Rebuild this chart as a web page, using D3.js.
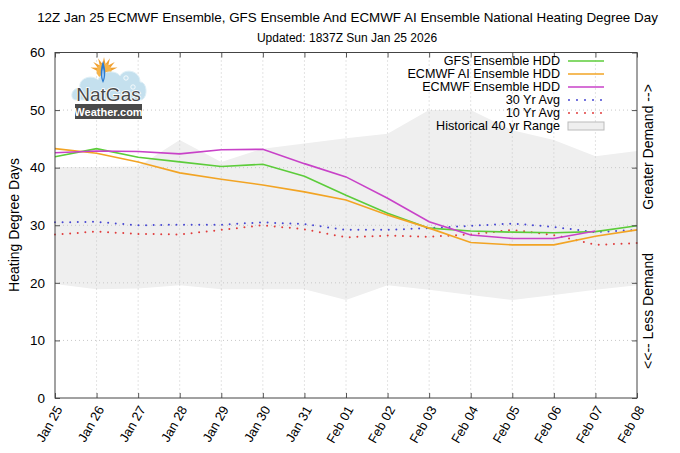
<!DOCTYPE html>
<html>
<head>
<meta charset="utf-8">
<script src="https://cdn.jsdelivr.net/npm/d3@7"></script>
<style>
    body { margin: 0; background: #fff; }
    svg { font-family: "Liberation Sans", Arial, sans-serif; }
    .grid line { stroke: #c8c8c8; stroke-dasharray: 1,3; }
</style>
</head>
<body>
<div id="wrapper"></div>
<script>
// values
const dayLabels = ["Jan 25", "Jan 26", "Jan 27", "Jan 28", "Jan 29", "Jan 30", "Jan 31",
    "Feb 01", "Feb 02", "Feb 03", "Feb 04", "Feb 05", "Feb 06", "Feb 07", "Feb 08"];
const yTicks = [0, 10, 20, 30, 40, 50, 60];

const gfs = [41.9, 43.3, 41.8, 41.0, 40.2, 40.6, 38.5, 35.2, 32.1, 29.5, 29.0, 28.8, 28.7, 28.9, 29.9];
const ecmwfAi = [43.3, 42.5, 41.0, 39.1, 38.0, 37.0, 35.8, 34.4, 31.8, 29.5, 27.0, 26.6, 26.6, 28.1, 29.2];
const ecmwf = [42.6, 42.9, 42.8, 42.4, 43.1, 43.2, 40.7, 38.4, 34.7, 30.6, 28.3, 27.7, 27.7, 29.0];
const avg30 = [30.5, 30.6, 30.0, 30.1, 30.1, 30.5, 30.2, 29.2, 29.2, 29.5, 29.9, 30.3, 29.7, 28.8, 29.2];
const avg10 = [28.4, 28.9, 28.5, 28.4, 29.2, 30.0, 29.3, 27.9, 28.2, 28.0, 28.4, 29.2, 28.3, 26.6, 26.9];
const rangeHigh = [40.1, 40.1, 40.2, 44.8, 41.0, 43.3, 44.2, 45.1, 45.9, 50.0, 50.0, 46.5, 44.8, 42.0, 42.9];
const rangeLow = [19.8, 18.9, 19.0, 19.6, 18.9, 18.9, 18.9, 17.0, 19.6, 18.8, 17.9, 17.0, 17.9, 18.8, 19.6];

const legendNames = ["GFS Ensemble HDD", "ECMWF AI Ensemble HDD", "ECMWF Ensemble HDD",
    "30 Yr Avg", "10 Yr Avg", "Historical 40 yr Range"];

var dimension = {
    width: 680,
    height: 453,
    margin: { top: 52.5, right: 43, bottom: 55, left: 55 }
};
dimension.boundedWidth = dimension.width - dimension.margin.left - dimension.margin.right;
dimension.boundedHeight = dimension.height - dimension.margin.top - dimension.margin.bottom;

const x = d3.scaleLinear()
    .domain([0, dayLabels.length - 1])
    .range([0, dimension.boundedWidth]);
const y = d3.scaleLinear()
    .domain([0, 60])
    .range([dimension.boundedHeight, 0]);

const svg = d3.select("#wrapper")
    .append("svg")
    .attr("width", dimension.width)
    .attr("height", dimension.height);

// titles
svg.append("text")
    .attr("x", 347.5).attr("y", 22)
    .attr("text-anchor", "middle")
    .style("font-size", "13.4px")
    .text("12Z Jan 25 ECMWF Ensemble, GFS Ensemble And ECMWF AI Ensemble National Heating Degree Day");
svg.append("text")
    .attr("x", 347).attr("y", 42)
    .attr("text-anchor", "middle")
    .style("font-size", "12px")
    .text("Updated: 1837Z Sun Jan 25 2026");

const bounds = svg.append("g")
    .attr("transform", `translate(${dimension.margin.left},${dimension.margin.top})`);

// historical range
const area = d3.area()
    .x((d, i) => x(i))
    .y0((d, i) => y(rangeLow[i]))
    .y1(d => y(d));
bounds.append("path")
    .datum(rangeHigh)
    .attr("d", area)
    .attr("fill", "#efefef");

// grid
bounds.append("g")
    .attr("class", "grid")
    .selectAll("line")
    .data(d3.range(1, dayLabels.length - 1))
    .join("line")
    .attr("x1", d => x(d)).attr("x2", d => x(d))
    .attr("y1", 0).attr("y2", dimension.boundedHeight);
bounds.append("g")
    .attr("class", "grid")
    .selectAll("line")
    .data(yTicks.slice(1, -1))
    .join("line")
    .attr("x1", 0).attr("x2", dimension.boundedWidth)
    .attr("y1", d => y(d)).attr("y2", d => y(d));

// averages (dotted)
const line = d3.line()
    .x((d, i) => x(i))
    .y(d => y(d));
const dotted = [
    { values: avg30, color: "#4646d2" },
    { values: avg10, color: "#e03c3c" }
];
bounds.selectAll(".avg")
    .data(dotted)
    .join("path")
    .attr("class", "avg")
    .attr("d", d => line(d.values))
    .attr("fill", "none")
    .attr("stroke", d => d.color)
    .attr("stroke-width", 2)
    .attr("stroke-linecap", "round")
    .attr("stroke-dasharray", "0,7.6");

// forecast lines
const solid = [
    { values: gfs, color: "#5ccc3a" },
    { values: ecmwfAi, color: "#f2a424" },
    { values: ecmwf, color: "#c842c8" }
];
bounds.selectAll(".fc")
    .data(solid)
    .join("path")
    .attr("class", "fc")
    .attr("d", d => line(d.values))
    .attr("fill", "none")
    .attr("stroke", d => d.color)
    .attr("stroke-width", 1.6);

// frame and inward ticks on all four sides
const tickLen = 5;
bounds.append("g")
    .attr("transform", `translate(0,${dimension.boundedHeight})`)
    .call(d3.axisBottom(x).tickValues(d3.range(dayLabels.length)).tickSize(-tickLen).tickFormat(""))
    .call(g => g.select(".domain").remove());
bounds.append("g")
    .call(d3.axisTop(x).tickValues(d3.range(dayLabels.length)).tickSize(-tickLen).tickFormat(""))
    .call(g => g.select(".domain").remove());
bounds.append("g")
    .call(d3.axisLeft(y).tickValues(yTicks).tickSize(-tickLen).tickPadding(10))
    .call(g => g.select(".domain").remove())
    .call(g => g.selectAll("text").style("font-size", "13.5px").attr("fill", "#000")
        .attr("font-family", "Liberation Sans, Arial, sans-serif"));
bounds.append("g")
    .attr("transform", `translate(${dimension.boundedWidth},0)`)
    .call(d3.axisRight(y).tickValues(yTicks).tickSize(-tickLen).tickFormat(""))
    .call(g => g.select(".domain").remove());
bounds.selectAll(".tick line").attr("stroke", "#555");
bounds.append("rect")
    .attr("width", dimension.boundedWidth)
    .attr("height", dimension.boundedHeight)
    .attr("fill", "none")
    .attr("stroke", "#444");

// rotated date labels
bounds.append("g")
    .selectAll("text")
    .data(dayLabels)
    .join("text")
    .attr("transform", (d, i) => `translate(${x(i) + 4},${dimension.boundedHeight + 9}) rotate(-60)`)
    .attr("text-anchor", "end")
    .attr("dy", "0.35em")
    .style("font-size", "13px")
    .text(d => d);

// axis titles
svg.append("text")
    .attr("transform", "translate(19,225) rotate(-90)")
    .attr("text-anchor", "middle")
    .style("font-size", "14px")
    .text("Heating Degree Days");
svg.append("text")
    .attr("transform", "translate(653,147) rotate(-90)")
    .attr("text-anchor", "middle")
    .style("font-size", "14px")
    .text("Greater Demand -->");
svg.append("text")
    .attr("transform", "translate(653,311) rotate(-90)")
    .attr("text-anchor", "middle")
    .style("font-size", "14px")
    .text("<<-- Less Demand");

// legend
const legend = svg.append("g")
    .selectAll("g")
    .data(legendNames)
    .join("g")
    .attr("transform", (d, i) => `translate(560,${61 + i * 13})`);
legend.append("text")
    .attr("text-anchor", "end")
    .attr("dy", "0.35em")
    .style("font-size", "12.6px")
    .text(d => d);
legend.filter((d, i) => i < 3)
    .append("line")
    .attr("x1", 8).attr("x2", 44)
    .attr("stroke", (d, i) => solid[i].color)
    .attr("stroke-width", 1.6);
legend.filter((d, i) => i >= 3 && i < 5)
    .append("line")
    .attr("x1", 9).attr("x2", 44)
    .attr("stroke", (d, i) => dotted[i].color)
    .attr("stroke-width", 2)
    .attr("stroke-linecap", "round")
    .attr("stroke-dasharray", "0,8");
legend.filter((d, i) => i === 5)
    .append("rect")
    .attr("x", 8).attr("y", -4)
    .attr("width", 36).attr("height", 8)
    .attr("fill", "#efefef")
    .attr("stroke", "#bbb");

// NatGasWeather logo
const logo = svg.append("g").attr("transform", "translate(70,56)");
const sun = logo.append("g").attr("transform", "translate(34,15)");
sun.selectAll("path")
    .data(d3.range(7))
    .join("path")
    .attr("d", "M-3,0 L0,-14 L3,0 Z")
    .attr("transform", d => `rotate(${-75 + d * 25})`)
    .attr("fill", "#f0a030");
sun.append("circle").attr("r", 7.5).attr("fill", "#f6b44a");
logo.append("path")
    .attr("d", "M6,44 C0,44 0,32 10,32 C8,22 22,18 28,24 C32,14 46,14 50,20 C54,12 70,14 70,26 C78,26 78,44 70,44 Z")
    .attr("fill", "#c4e0ee")
    .attr("stroke", "#dceef6");
logo.selectAll(".flake")
    .data([[56, 22], [63, 31]])
    .join("circle")
    .attr("class", "flake")
    .attr("cx", d => d[0]).attr("cy", d => d[1])
    .attr("r", 2.2)
    .attr("fill", "none")
    .attr("stroke", "#fff")
    .attr("stroke-width", 0.8);
logo.append("path")
    .attr("d", "M33,5 C30,13 30,21 33,27 C36,21 36,13 33,5 Z")
    .attr("fill", "#2b7bd0");
logo.append("path")
    .attr("d", "M33,12 C32,17 32,21 33,24 C34,21 34,17 33,12 Z")
    .attr("fill", "#bfe0ff");
logo.append("text")
    .attr("x", 38.5).attr("y", 45)
    .attr("text-anchor", "middle")
    .style("font-size", "19px")
    .attr("fill", "#4a4a4a")
    .attr("stroke", "#fff")
    .attr("stroke-width", 1.6)
    .attr("paint-order", "stroke")
    .text("NatGas");
logo.append("rect")
    .attr("x", 5).attr("y", 48)
    .attr("width", 67).attr("height", 15)
    .attr("fill", "#4a4a4a");
logo.append("text")
    .attr("x", 38.5).attr("y", 59.5)
    .attr("text-anchor", "middle")
    .style("font-size", "11px")
    .style("font-weight", "bold")
    .attr("fill", "#fff")
    .text("Weather.com");
</script>
</body>
</html>
